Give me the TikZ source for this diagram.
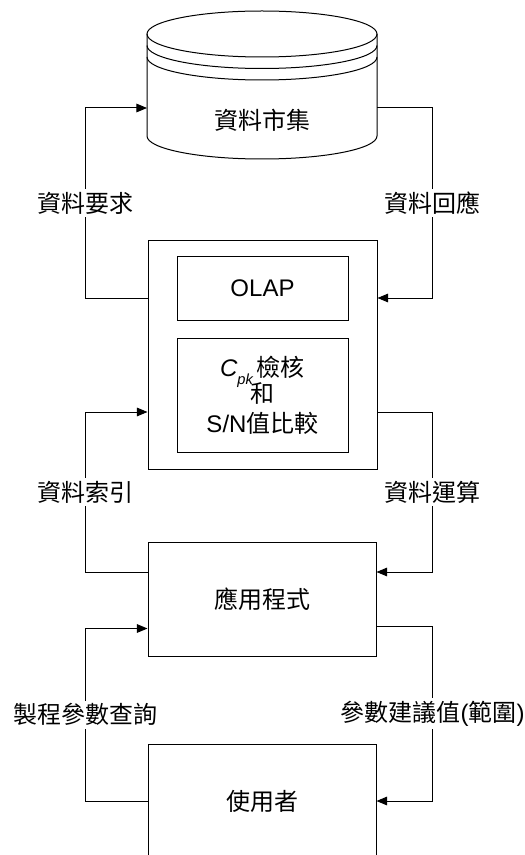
\documentclass[tikz,border=0pt]{standalone}
\usepackage{fontspec}
\setmainfont{Liberation Sans}
\newfontfamily\cjk{Noto Sans CJK TC}
\usetikzlibrary{arrows.meta}
\tikzset{
  txt/.style={font=\fontsize{18}{20}\selectfont},
  box/.style={draw, line width=0.75pt, txt, minimum width=171pt, minimum height=85.5pt},
  lab/.style={fill=white, inner sep=2pt, txt},
  link/.style={line width=0.75pt},
  arr/.style={link, -{Triangle[length=8pt,width=6.5pt]}}
}

\begin{document}
\begin{tikzpicture}[x=0.75pt, y=-0.75pt]
    \path[use as bounding box] (0,0) rectangle (524,855);
    \clip (0,0) rectangle (524,855);
    \draw [link] (262,34) ellipse [x radius=115, y radius=23];
    \draw [link] (147,34) -- (147,136) arc [start angle=180, end angle=0, x radius=115, y radius=23] -- (377,34);
    \draw [link] (147,45.5) arc [start angle=180, end angle=0, x radius=115, y radius=23];
    \draw [link] (147,57) arc [start angle=180, end angle=0, x radius=115, y radius=23];
    \node [txt] (dm) at (262,120) {\cjk 資料市集};
    \coordinate (dmW) at (147,108);
    \coordinate (dmE) at (377,108);
    \node [box, minimum width=171.75pt, minimum height=171pt] (big) at (262.5,355) {};
    \node [box, minimum width=128.25pt, minimum height=47.25pt] (olap) at (262.5,288.5) {OLAP};
    \node [box, minimum width=128.25pt, minimum height=85.5pt, align=center] (chk) at (262.5,395)
      {{\itshape C}\raisebox{-6pt}[0pt][0pt]{\fontsize{11}{11}\selectfont\itshape pk}\,{\cjk 檢核}\\{\cjk 和}\\[2pt]S/N{\cjk 值比較}};
    \node [box] (app) at (262,599.5) {\cjk 應用程式};
    \node [box] (user) at (262,801) {\cjk 使用者};
    \draw [arr] ([shift={(0,-57)}]big.west) -- ++(-62,0) |- node [lab, pos=0.25] {\cjk 資料要求} (dmW);
    \draw [arr] (dmE) -- ++(55,0) |- node [lab, pos=0.25] {\cjk 資料回應} ([shift={(0,-57)}]big.east);
    \draw [arr] ([shift={(0,-27.5)}]app.west) -- ++(-62,0) |- node [lab, pos=0.25] {\cjk 資料索引} ([shift={(0,57)}]big.west);
    \draw [arr] ([shift={(0,57)}]big.east) -- ++(55,0) |- node [lab, pos=0.25] {\cjk 資料運算} ([shift={(0,-27.5)}]app.east);
    \draw [arr] (user.west) -- ++(-62,0) |- node [lab, pos=0.25] {\cjk 製程參數查詢} ([shift={(0,29)}]app.west);
    \draw [arr] ([shift={(0,27)}]app.east) -- ++(56,0) |- node [lab, pos=0.25] {{\cjk 參數建議值}({\cjk 範圍})} (user.east);
\end{tikzpicture}
\end{document}
